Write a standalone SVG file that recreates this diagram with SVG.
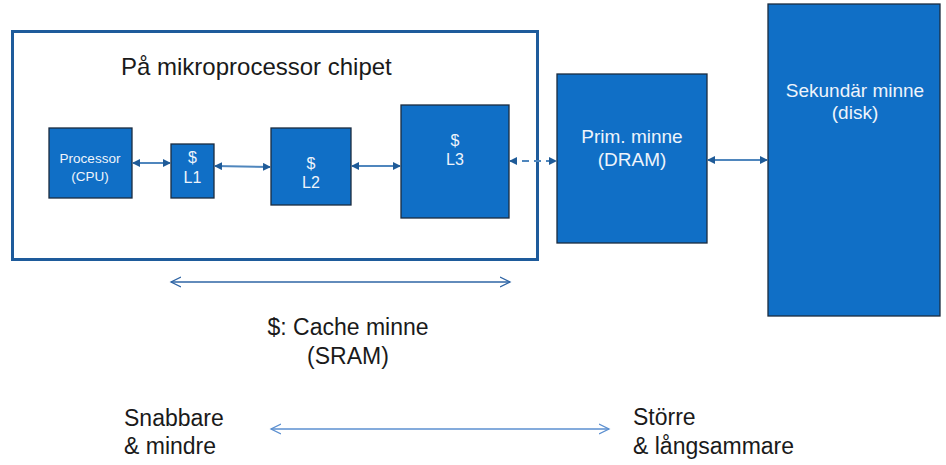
<svg xmlns="http://www.w3.org/2000/svg" width="946" height="465" viewBox="0 0 946 465">
<style>
.box{fill:#106fc6;stroke:#1b2b3f;stroke-width:1.3}
.in{fill:#eef4fb;font-family:"Liberation Sans",Arial,sans-serif;text-anchor:middle}
.lbl{fill:#1a1a1a;font-family:"Liberation Sans",Arial,sans-serif}
.con{stroke:#4f86bd;stroke-width:2;fill:none}
.rng{stroke:#2e64a4;stroke-width:1.3;fill:none}
</style>
<defs>
<marker id="ah" markerWidth="8" markerHeight="8" refX="7" refY="4" orient="auto-start-reverse" markerUnits="userSpaceOnUse" viewBox="0 0 8 8"><path d="M0,0 L8,4 L0,8 Z" fill="#1f5b98"/></marker>
<marker id="oh" markerWidth="12" markerHeight="12" refX="10" refY="6" orient="auto-start-reverse" markerUnits="userSpaceOnUse" viewBox="0 0 12 12"><path d="M0,1 L10,6 L0,11" fill="none" stroke="#2e64a4" stroke-width="1.3"/></marker>
<marker id="oh2" markerWidth="12" markerHeight="12" refX="10" refY="6" orient="auto-start-reverse" markerUnits="userSpaceOnUse" viewBox="0 0 12 12"><path d="M0,1 L10,6 L0,11" fill="none" stroke="#5b8fd0" stroke-width="1.3"/></marker>
</defs>
<rect width="946" height="465" fill="#ffffff"/>
<g id="chip">
<rect x="12.5" y="31.5" width="525" height="228" fill="none" stroke="#1e5b9b" stroke-width="3"/>
<text class="lbl" x="121" y="75" font-size="24">På mikroprocessor chipet</text>
</g>
<g id="cpu"><rect class="box" x="49" y="128" width="83" height="70"/>
<text class="in" x="90" y="163" font-size="13.5">Processor</text><text class="in" x="90" y="181" font-size="13.5">(CPU)</text></g>
<g id="l1"><rect class="box" x="171" y="144" width="43" height="54"/>
<text class="in" x="192.5" y="163" font-size="16">$</text><text class="in" x="192.5" y="183" font-size="16">L1</text></g>
<g id="l2"><rect class="box" x="271" y="128" width="80" height="77"/>
<text class="in" x="311" y="169" font-size="16">$</text><text class="in" x="311" y="188" font-size="16">L2</text></g>
<g id="l3"><rect class="box" x="401" y="105" width="108" height="113"/>
<text class="in" x="455" y="146" font-size="16">$</text><text class="in" x="455" y="165" font-size="16">L3</text></g>
<g id="dram"><rect class="box" x="557" y="74" width="150" height="169"/>
<text class="in" x="632" y="143" font-size="19">Prim. minne</text><text class="in" x="632" y="166" font-size="19">(DRAM)</text></g>
<g id="disk"><rect class="box" x="768" y="4" width="172" height="312"/>
<text class="in" x="855" y="97" font-size="19">Sekundär minne</text><text class="in" x="855" y="119" font-size="19">(disk)</text></g>
<g id="connectors">
<line class="con" x1="133" y1="163" x2="170" y2="163" marker-start="url(#ah)" marker-end="url(#ah)"/>
<line class="con" x1="215" y1="166" x2="270" y2="167" marker-start="url(#ah)" marker-end="url(#ah)"/>
<line class="con" x1="352" y1="166" x2="400" y2="166" marker-start="url(#ah)" marker-end="url(#ah)"/>
<line class="con" x1="510" y1="161" x2="556" y2="161" stroke-dasharray="7,5" marker-start="url(#ah)" marker-end="url(#ah)"/>
<line class="con" x1="708" y1="160" x2="767" y2="160" marker-start="url(#ah)" marker-end="url(#ah)"/>
<line class="rng" x1="171" y1="282" x2="510" y2="282" marker-start="url(#oh)" marker-end="url(#oh)"/>
<line x1="271" y1="429" x2="609" y2="429" stroke="#5b8fd0" stroke-width="1.3" marker-start="url(#oh2)" marker-end="url(#oh2)"/>
</g>
<g id="labels">
<text class="lbl" x="348" y="335" font-size="23" text-anchor="middle">$: Cache minne</text>
<text class="lbl" x="348" y="364" font-size="23" text-anchor="middle">(SRAM)</text>
<text class="lbl" x="124" y="426" font-size="23">Snabbare</text>
<text class="lbl" x="124" y="454" font-size="23">&amp; mindre</text>
<text class="lbl" x="633" y="425" font-size="23">Större</text>
<text class="lbl" x="633" y="454" font-size="23">&amp; långsammare</text>
</g>
</svg>
